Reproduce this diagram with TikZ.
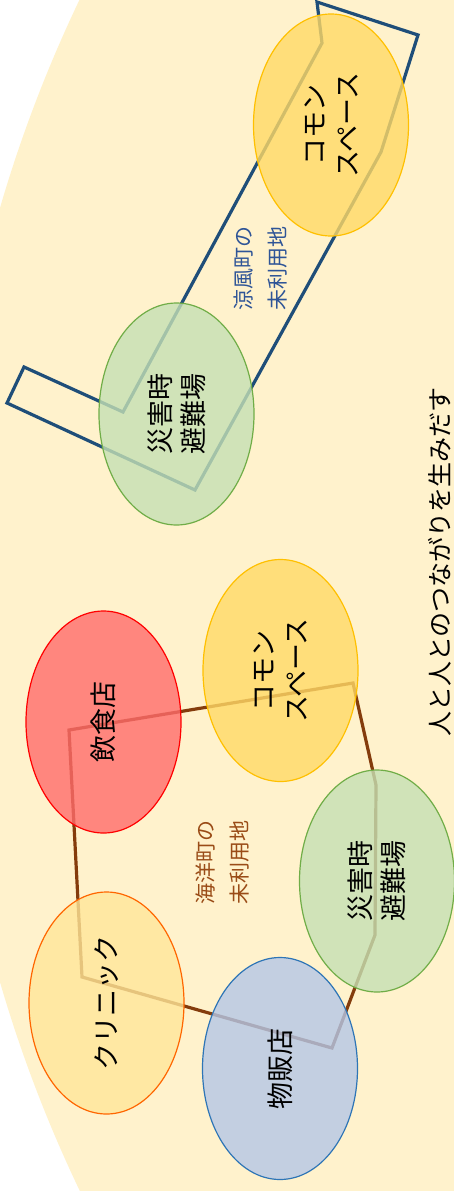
\documentclass[tikz,border=0pt]{standalone}
\usepackage{fontspec}
\newfontfamily\jp{Noto Sans CJK JP}
\usetikzlibrary{shapes.geometric}
\definecolor{bgy}{HTML}{FFF2CC}
\definecolor{cmfill}{HTML}{FFD966}
\definecolor{cmdraw}{HTML}{FFC000}
\definecolor{grfill}{HTML}{C5E0B4}
\definecolor{grdraw}{HTML}{70AD47}
\definecolor{rdfill}{HTML}{FF6B6B}
\definecolor{rddraw}{HTML}{FF0000}
\definecolor{clfill}{HTML}{FFE699}
\definecolor{cldraw}{HTML}{FF6600}
\definecolor{blfill}{HTML}{B4C7E7}
\definecolor{bldraw}{HTML}{2E75B6}
\definecolor{navyline}{HTML}{1F4E79}
\definecolor{brownline}{HTML}{843C0C}
\definecolor{navytext}{HTML}{2F5597}
\definecolor{browntext}{HTML}{9A4C17}
\begin{document}
\begin{tikzpicture}[x=1pt,y=-1pt,
  blob/.style={ellipse, rotate=90, minimum width=222pt, minimum height=155pt,
    inner sep=0pt, line width=1.2pt, fill opacity=0.8, text opacity=1,
    font=\jp\fontsize{27}{33}\selectfont, align=center, text=black},
  commons/.style={blob, fill=cmfill, draw=cmdraw},
  shelter/.style={blob, fill=grfill, draw=grdraw},
  food/.style={blob, fill=rdfill, draw=rddraw},
  clinic/.style={blob, fill=clfill, draw=cldraw},
  shop/.style={blob, fill=blfill, draw=bldraw},
  navypath/.style={draw=navyline, line width=3.2pt, line join=miter},
  brownpath/.style={draw=brownline, line width=3.2pt, line join=miter},
  lbl/.style={rotate=90, align=center, font=\jp\fontsize{21}{34}\selectfont, inner sep=0pt},
]
\useasboundingbox (0,0) rectangle (454,1191);
\begin{scope}
\clip (0,0) rectangle (454,1191);
\fill[bgy] (1326,595) circle (1381pt);

% unused land outlines
\coordinate (n1) at (317,2);
\coordinate (n2) at (418,35);
\coordinate (n3) at (381,152);
\coordinate (n4) at (195,490);
\coordinate (n5) at (7,403);
\coordinate (n6) at (24,367);
\coordinate (n7) at (123,412);
\coordinate (n8) at (322,43);
\draw[navypath] (n1) -- (n2) -- (n3) -- (n4) -- (n5) -- (n6) -- (n7) -- (n8) -- cycle;

\coordinate (b1) at (353,683);
\coordinate (b2) at (376,785);
\coordinate (b3) at (375,935);
\coordinate (b4) at (332,1048);
\coordinate (b5) at (82,977);
\coordinate (b6) at (69,730);
\draw[brownpath] (b1) -- (b2) -- (b3) -- (b4) -- (b5) -- (b6) -- cycle;

% facilities
\node[commons] (cs1) at (331,125) {コモン\\スペース};
\node[shelter] (sh1) at (176.5,414) {災害時\\避難場};
\node[food] (fd) at (103.5,722) {飲食店};
\node[commons] (cs2) at (280.5,670.5) {コモン\\スペース};
\node[shelter] (sh2) at (377,881) {災害時\\避難場};
\node[clinic] (cl) at (106.5,1003) {クリニック};
\node[shop] (sp) at (280,1068.5) {物販店};

% labels
\node[lbl, text=navytext] (l1) at (261,268) {涼風町の\\未利用地};
\node[lbl, text=browntext] (l2) at (223,862) {海洋町の\\未利用地};
\node[rotate=90, font=\jp\fontsize{25}{30}\selectfont, inner sep=0pt] (msg) at (440,562) {人と人とのつながりを生みだす};
\end{scope}
\end{tikzpicture}
\end{document}
